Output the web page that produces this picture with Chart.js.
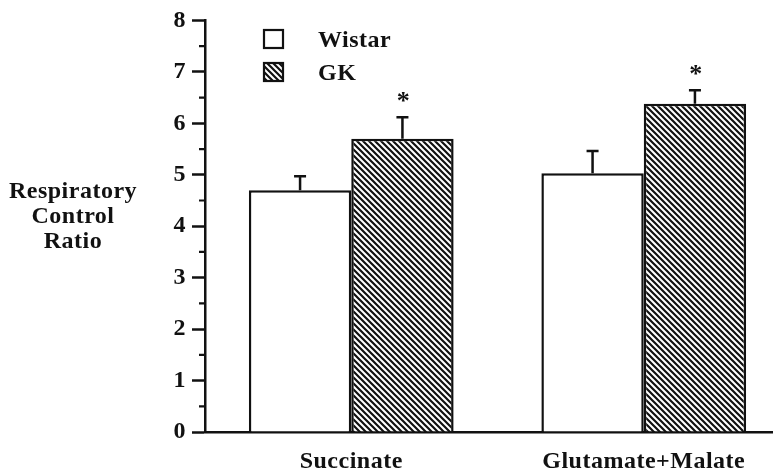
<!DOCTYPE html>
<html>
<head>
<meta charset="utf-8">
<script src="https://cdn.jsdelivr.net/npm/chart.js@4.4.1/dist/chart.umd.min.js"></script>
<style>
  html, body { margin: 0; padding: 0; background: #fff; overflow: hidden; }
  #wrap { width: 790px; height: 473px; }
</style>
</head>
<body>
<div id="wrap"><canvas id="rcr" width="790" height="473"></canvas></div>
<script>
  // values
  var categories = ["Succinate", "Glutamate+Malate"];
  var wistar = [4.70, 5.03];
  var wistarErr = [0.27, 0.43];
  var gk = [5.70, 6.38];
  var gkErr = [0.42, 0.26];
  var gkStar = [true, true];
  var yTicks = [0, 1, 2, 3, 4, 5, 6, 7, 8];
  var yTitle = ["Respiratory", "Control", "Ratio"];

  var ink = "#111";
  var serif = "'Liberation Serif', 'DejaVu Serif', serif";

  // diagonal hatch, lines running down to the right
  function makeHatch() {
      var s = 6;
      var c = document.createElement("canvas");
      c.width = s; c.height = s;
      var g = c.getContext("2d");
      g.fillStyle = "#fff";
      g.fillRect(0, 0, s, s);
      g.strokeStyle = ink;
      g.lineWidth = 2.2;
      g.beginPath();
      [-s, 0, s].forEach(function(k) {
          g.moveTo(k - 1, -1);
          g.lineTo(k + s + 1, s + 1);
      });
      g.stroke();
      return g.createPattern(c, "repeat");
  }
  var hatch = makeHatch();

  var extras = {
      id: "extras",
      beforeDraw: function(chart) {
          chart.ctx.letterSpacing = "0.5px";
      },
      afterDatasetsDraw: function(chart) {
          var ctx = chart.ctx;
          var y = chart.scales.y;
          var errs = [wistarErr, gkErr];
          ctx.save();
          ctx.strokeStyle = ink;
          ctx.lineWidth = 2.5;
          chart.data.datasets.forEach(function(ds, di) {
              chart.getDatasetMeta(di).data.forEach(function(bar, i) {
                  var top = y.getPixelForValue(ds.data[i] + errs[di][i]);
                  ctx.beginPath();
                  ctx.moveTo(bar.x, bar.y);
                  ctx.lineTo(bar.x, top);
                  ctx.moveTo(bar.x - 6, top);
                  ctx.lineTo(bar.x + 6, top);
                  ctx.stroke();
                  if (di == 1 && gkStar[i]) {
                      ctx.fillStyle = ink;
                      ctx.font = "bold 26px " + serif;
                      ctx.textAlign = "center";
                      ctx.textBaseline = "alphabetic";
                      ctx.fillText("*", bar.x + 1, top - 8);
                  }
              });
          });

          // minor ticks at the half units
          var x0 = y.right;
          ctx.lineWidth = 2.2;
          ctx.beginPath();
          for (var v = 0.5; v < 8; v += 1) {
              var py = y.getPixelForValue(v);
              ctx.moveTo(x0 - 6, py);
              ctx.lineTo(x0, py);
          }
          ctx.stroke();

          // legend
          ctx.lineWidth = 2.2;
          ctx.font = "bold 24px " + serif;
          ctx.textAlign = "left";
          ctx.textBaseline = "alphabetic";
          chart.data.datasets.forEach(function(ds, di) {
              var by = 30 + di * 33;
              ctx.fillStyle = ds.backgroundColor;
              ctx.fillRect(264, by, 19, 18);
              ctx.strokeRect(264, by, 19, 18);
              ctx.fillStyle = ink;
              ctx.fillText(ds.label, 318, by + 17);
          });

          // y title, set horizontally
          ctx.textAlign = "center";
          yTitle.forEach(function(t, k) {
              ctx.fillText(t, 73, 198 + k * 25);
          });
          ctx.restore();
      }
  };

  var chart = new Chart("rcr", {
      type: "bar",
      data: {
          labels: categories,
          datasets: [
              { label: "Wistar", data: wistar, backgroundColor: "#fff" },
              { label: "GK", data: gk, backgroundColor: hatch }
          ]
      },
      options: {
          responsive: false,
          animation: false,
          devicePixelRatio: 1,
          layout: { padding: { top: 15, left: 0, right: 0, bottom: 0 } },
          datasets: {
              bar: {
                  borderColor: ink,
                  borderWidth: 2.5,
                  categoryPercentage: 0.70,
                  barPercentage: 1.0
              }
          },
          plugins: {
              legend: { display: false },
              tooltip: { enabled: false }
          },
          scales: {
              x: {
                  afterFit: function(s) { s.height = 41; },
                  grid: { drawOnChartArea: false, drawTicks: false },
                  border: { color: ink, width: 2.5 },
                  ticks: {
                      color: ink,
                      padding: 15,
                      font: { family: serif, size: 24, weight: "bold" }
                  }
              },
              y: {
                  min: 0,
                  max: 8,
                  afterFit: function(s) { s.width = 205; },
                  afterBuildTicks: function(s) {
                      s.ticks = yTicks.map(function(v) { return { value: v }; });
                  },
                  grid: {
                      drawOnChartArea: false,
                      tickLength: 13,
                      tickColor: ink,
                      tickWidth: 2.5
                  },
                  border: { color: ink, width: 2.5 },
                  ticks: {
                      color: ink,
                      padding: 6,
                      font: { family: serif, size: 24, weight: "bold" }
                  }
              }
          }
      },
      plugins: [extras]
  });
</script>
</body>
</html>
